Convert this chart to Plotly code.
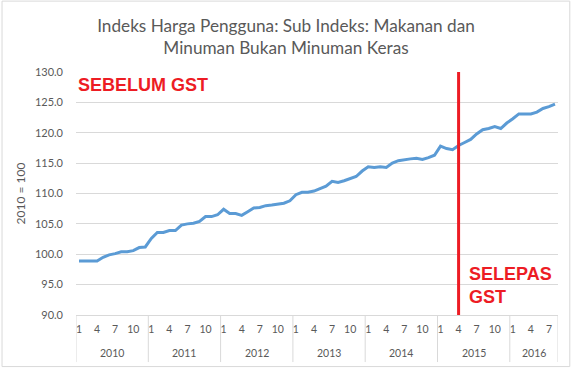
import plotly.graph_objects as go

# ---- data ----
years = [2010, 2011, 2012, 2013, 2014, 2015, 2016]
months_per_year = [12, 12, 12, 12, 12, 12, 8]
values = [
    98.9, 98.9, 98.9, 98.9, 99.5, 99.9, 100.1, 100.4, 100.4, 100.6, 101.1, 101.2,
    102.6, 103.6, 103.6, 103.9, 103.9, 104.8, 105.0, 105.1, 105.4, 106.2, 106.2, 106.5,
    107.4, 106.7, 106.7, 106.4, 107.0, 107.6, 107.7, 108.0, 108.1, 108.3, 108.4, 108.8,
    109.8, 110.2, 110.2, 110.4, 110.8, 111.2, 112.0, 111.8, 112.1, 112.4, 112.8, 113.7,
    114.4, 114.3, 114.4, 114.3, 115.0, 115.4, 115.6, 115.7, 115.8, 115.6, 115.9, 116.3,
    117.8, 117.4, 117.2, 117.9, 118.4, 118.9, 119.8, 120.5, 120.7, 121.0, 120.7, 121.6,
    122.3, 123.1, 123.1, 123.1, 123.4, 124.0, 124.3, 124.7,
]
shown_months = [1, 4, 7, 10]
gst_year, gst_month = 2015, 4
title_text = "Indeks Harga Pengguna: Sub Indeks: Makanan dan<br>Minuman Bukan Minuman Keras"
y_title = "2010 = 100"
label_before = "SEBELUM GST"
label_after = "SELEPAS<br>GST"

# ---- derived category positions ----
month_list, year_list = [], []
for y, n in zip(years, months_per_year):
    for m in range(1, n + 1):
        year_list.append(y)
        month_list.append(m)
xs = list(range(len(values)))
tickvals = [i for i, m in enumerate(month_list) if m in shown_months]
ticktext = [str(month_list[i]) for i in tickvals]
gst_idx = next(i for i in xs if year_list[i] == gst_year and month_list[i] == gst_month)

W, H = 572, 369
ML, MR, MT, MB = 75.5, 14.3, 72.3, 54
PW, PH = W - ML - MR, H - MT - MB

GRID = "#D9D9D9"
TXT = "#595959"
RED = "#ED1C24"
FONT = "Lato, 'Open Sans', sans-serif"
BOLDFONT = "Liberation Sans, Arial, sans-serif"

fig = go.Figure()
fig.add_trace(go.Scatter(x=xs, y=values, mode="lines",
                         line=dict(color="#5B9BD5", width=3), hoverinfo="skip"))

def px2paper_x(px):
    return (px - ML) / PW

def px2paper_y(py):
    return (H - MB - py) / PH

shapes = []
# year dividers under the axis
start = 0
bounds = [-0.5]
for n in months_per_year:
    start += n
    bounds.append(start - 0.5)
div_bottom = px2paper_y(362)
for b in bounds:
    shapes.append(dict(type="line", xref="x", yref="paper", x0=b, x1=b, y0=0, y1=div_bottom,
                       line=dict(color=GRID, width=1)))
# GST vertical line
shapes.append(dict(type="line", xref="x", yref="paper", x0=gst_idx, x1=gst_idx, y0=0, y1=1,
                   line=dict(color=RED, width=3)))
# outer chart border
shapes.append(dict(type="rect", xref="paper", yref="paper",
                   x0=px2paper_x(1.5), x1=px2paper_x(569.5), y0=px2paper_y(1.5), y1=px2paper_y(366.5),
                   line=dict(color=GRID, width=1), fillcolor="rgba(0,0,0,0)", layer="below"))

annotations = []
# year labels
pos = 0
for y, n in zip(years, months_per_year):
    annotations.append(dict(text=str(y), xref="x", yref="paper", x=pos + (n - 1) / 2, y=0,
                            yshift=-(352.7 - (H - MB)), showarrow=False, yanchor="middle",
                            font=dict(family=FONT, size=10.5, color=TXT)))
    pos += n
annotations.append(dict(text=label_before, xref="paper", yref="paper",
                        x=px2paper_x(76), y=px2paper_y(85), xanchor="left", yanchor="middle",
                        showarrow=False,
                        font=dict(family=BOLDFONT, size=18, color=RED, weight="bold")))
annotations.append(dict(text=label_after, xref="paper", yref="paper", align="left",
                        x=px2paper_x(466.5), y=px2paper_y(285.5), xanchor="left", yanchor="middle",
                        showarrow=False,
                        font=dict(family=BOLDFONT, size=18, color=RED, weight="bold")))

fig.update_layout(
    width=W, height=H,
    margin=dict(l=ML, r=MR, t=MT, b=MB, autoexpand=False),
    paper_bgcolor="white", plot_bgcolor="white",
    showlegend=False,
    title=dict(text=title_text, x=0.5, xref="container", xanchor="center",
               y=1 - 31.5 / H, yref="container", yanchor="middle",
               font=dict(family=FONT, size=17.2, color=TXT)),
    shapes=shapes, annotations=annotations,
    xaxis=dict(range=[-0.5, len(values) - 0.5], tickvals=tickvals, ticktext=ticktext,
               showgrid=False, zeroline=False, showline=True, linecolor=GRID, linewidth=1,
               ticks="", ticklabelstandoff=4,
               tickfont=dict(family=FONT, size=10.5, color=TXT)),
    yaxis=dict(range=[90, 130], dtick=5, tick0=90, tickformat=".1f",
               showgrid=True, gridcolor=GRID, gridwidth=1, zeroline=False, showline=False,
               ticks="", ticklabelstandoff=12,
               tickfont=dict(family=FONT, size=11, color=TXT),
               title=dict(text=y_title, standoff=6, font=dict(family=FONT, size=12, color=TXT))),
)

fig.write_html("out.html", config={"displayModeBar": False},
               post_script="document.body.style.margin='0';")
